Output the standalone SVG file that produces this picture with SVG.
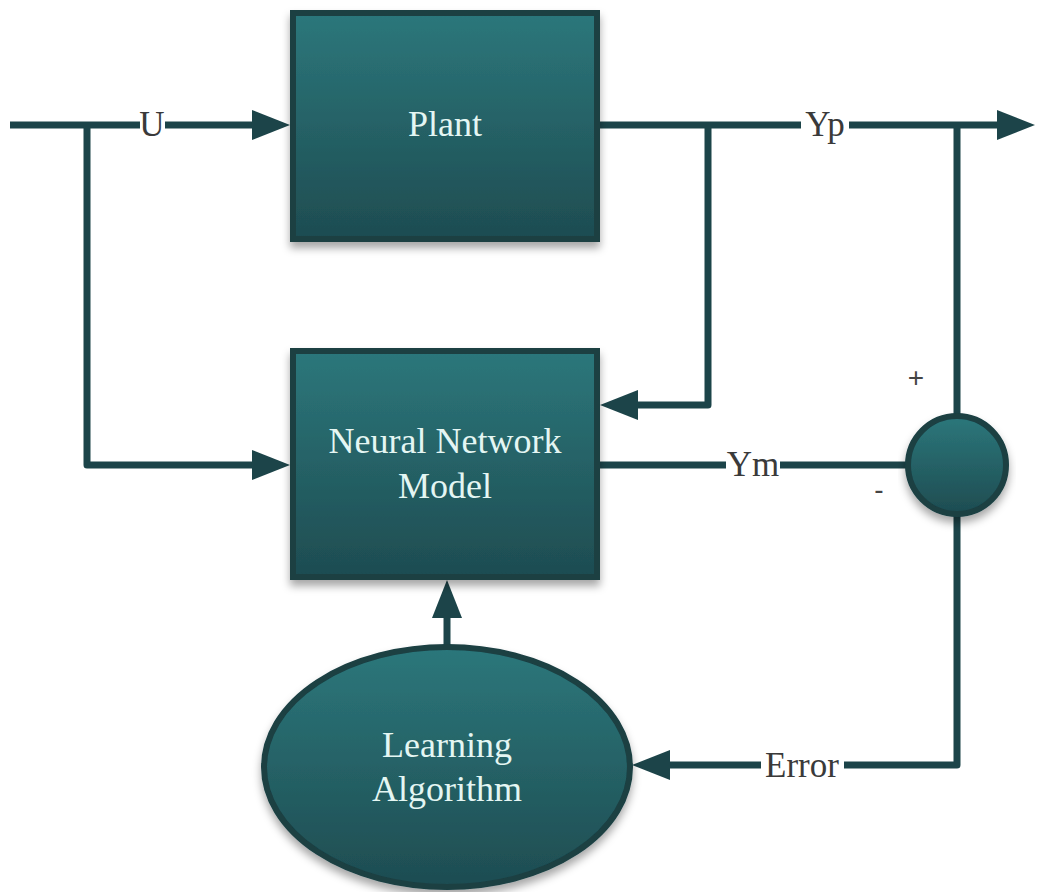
<svg xmlns="http://www.w3.org/2000/svg" width="1043" height="892" viewBox="0 0 1043 892">
  <defs>
    <linearGradient id="tealFill" x1="0" y1="0" x2="0" y2="1">
      <stop offset="0" stop-color="#2c777b"/>
      <stop offset="1" stop-color="#1e4c51"/>
    </linearGradient>
    <filter id="dropShadow" x="-10%" y="-10%" width="120%" height="130%">
      <feDropShadow dx="0" dy="6" stdDeviation="4" flood-color="#000" flood-opacity="0.35"/>
    </filter>
    <marker id="arrow" markerUnits="userSpaceOnUse" markerWidth="38" markerHeight="30" refX="2" refY="15" orient="auto">
      <path d="M0,0 L38,15 L0,30 z" fill="#1c4449"/>
    </marker>
    <style>
      .serif { font-family: "Liberation Serif", "DejaVu Serif", serif; }
      .wire { fill: none; stroke: #1c4449; stroke-width: 7; stroke-linejoin: round; }
      .block { fill: url(#tealFill); stroke: #1a3f43; stroke-width: 6; filter: url(#dropShadow); }
      .nodeText { font-size: 36px; fill: #e4f6f3; text-anchor: middle; }
      .sigText { font-size: 35px; fill: #3a3a3a; text-anchor: middle; }
      .signText { font-family: "Liberation Sans", sans-serif; font-size: 28px; fill: #444; text-anchor: middle; }
      .labelBg { fill: #ffffff; }
    </style>
  </defs>

  <rect width="1043" height="892" fill="#ffffff"/>

  <!-- signal wires -->
  <g id="connectors">
    <path class="wire" d="M10,125 H254" marker-end="url(#arrow)"/>
    <path class="wire" d="M87,125 V465 H254" marker-end="url(#arrow)"/>
    <path class="wire" d="M600,125 H999" marker-end="url(#arrow)"/>
    <path class="wire" d="M708,125 V405 H636" marker-end="url(#arrow)"/>
    <path class="wire" d="M957,125 V414"/>
    <path class="wire" d="M600,465 H906"/>
    <path class="wire" d="M957,516 V765 H668" marker-end="url(#arrow)"/>
    <path class="wire" d="M447,646 V616" marker-end="url(#arrow)"/>

    <!-- signal names -->
    <rect class="labelBg" x="140" y="108" width="25" height="34"/>
    <text class="serif sigText" x="152" y="136">U</text>
    <rect class="labelBg" x="801" y="108" width="48" height="34"/>
    <text class="serif sigText" x="825" y="136">Yp</text>
    <rect class="labelBg" x="726" y="448" width="54" height="34"/>
    <text class="serif sigText" x="753" y="476">Ym</text>
    <rect class="labelBg" x="761" y="748" width="83" height="34"/>
    <text class="serif sigText" x="802" y="777">Error</text>

    <text class="signText" x="916" y="387">+</text>
    <text class="signText" x="879" y="499">-</text>
  </g>

  <g id="plant">
    <rect class="block" x="293" y="13" width="304" height="226"/>
    <text class="serif nodeText" x="445" y="136">Plant</text>
  </g>

  <g id="nn-model">
    <rect class="block" x="293" y="351" width="304" height="226"/>
    <text class="serif nodeText" x="445" y="453">Neural Network</text>
    <text class="serif nodeText" x="445" y="498">Model</text>
  </g>

  <g id="summing-junction">
    <circle class="block" cx="957" cy="465" r="49"/>
  </g>

  <g id="learning-algorithm">
    <ellipse class="block" cx="447" cy="767" rx="183" ry="120"/>
    <text class="serif nodeText" x="447" y="757">Learning</text>
    <text class="serif nodeText" x="447" y="801">Algorithm</text>
  </g>
</svg>
